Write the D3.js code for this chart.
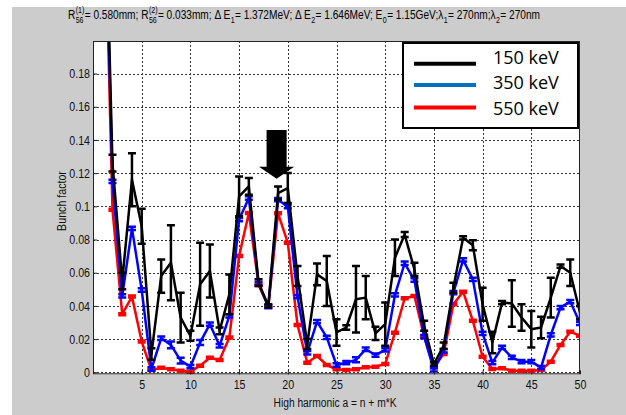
<!DOCTYPE html>
<html>
<head>
<meta charset="utf-8">
<script src="https://cdn.jsdelivr.net/npm/d3@7"></script>
<style>
  html, body { margin: 0; padding: 0; background: #fff; }
  svg { display: block; }
  .tick text { font-family: "Liberation Sans", Arial, sans-serif; font-size: 13px; fill: #111; }
</style>
</head>
<body>
<div id="chart"></div>
<script>
// harmonic number a = n + m*K
const harmonics = [1, 2, 3, 4, 5, 6, 7, 8, 9, 10, 11, 12, 13, 14, 15, 16, 17, 18, 19, 20,
  21, 22, 23, 24, 25, 26, 27, 28, 29, 30, 31, 32, 33, 34, 35, 36, 37, 38, 39, 40,
  41, 42, 43, 44, 45, 46, 47, 48, 49, 50]

// bunch factor, 150 keV
const bf150 = [0.35, 0.126, 0.055, 0.116, 0.088, 0.011, 0.058, 0.066, 0.033, 0.022,
  0.053, 0.061, 0.025, 0.047, 0.106, 0.112, 0.054, 0.040, 0.108, 0.111,
  0.058, 0.017, 0.059, 0.055, 0.024, 0.027, 0.044, 0.045, 0.0235, 0.029,
  0.069, 0.083, 0.062, 0.028, 0.005, 0.016, 0.051, 0.081, 0.0765, 0.041,
  0.018, 0.042, 0.0415, 0.033, 0.026, 0.027, 0.045, 0.064, 0.060, 0.036]
const err150 = [0.005, 0.005, 0.005, 0.016, 0.0105, 0.0035, 0.010, 0.0226, 0.015, 0.003,
  0.025, 0.016, 0.002, 0.012, 0.012, 0.005, 0.002, 0.001, 0.004, 0.009,
  0.006, 0.003, 0.0065, 0.015, 0.008, 0.0013, 0.020, 0.013, 0.004, 0.013,
  0.011, 0.0015, 0.004, 0.003, 0.001, 0.002, 0.003, 0.001, 0.003, 0.010,
  0.0065, 0.001, 0.014, 0.008, 0.011, 0.0065, 0.012, 0.001, 0.008, 0.004]

// bunch factor, 350 keV
const bf350 = [0.34, 0.115, 0.046, 0.0867, 0.0496, 0.002, 0.0205, 0.0165, 0.007, 0.0034,
  0.018, 0.029, 0.016, 0.034, 0.092, 0.105, 0.0536, 0.0396, 0.104, 0.0998,
  0.0456, 0.0118, 0.0305, 0.021, 0.0044, 0.0058, 0.0075, 0.0139, 0.0104, 0.0135,
  0.0466, 0.0657, 0.0556, 0.0215, 0.0015, 0.013, 0.048, 0.0677, 0.056, 0.0235,
  0.0058, 0.015, 0.009, 0.0064, 0.0064, 0.0028, 0.0225, 0.039, 0.0426, 0.0295]
const err350 = [0.001, 0.001, 0.001, 0.001, 0.001, 0.001, 0.001, 0.002, 0.0017, 0.001,
  0.0015, 0.001, 0.001, 0.001, 0.001, 0.001, 0.001, 0.001, 0.001, 0.001,
  0.001, 0.001, 0.001, 0.001, 0.001, 0.001, 0.0015, 0.001, 0.001, 0.001,
  0.001, 0.001, 0.001, 0.001, 0.001, 0.001, 0.001, 0.001, 0.001, 0.001,
  0.001, 0.001, 0.001, 0.001, 0.001, 0.001, 0.001, 0.001, 0.001, 0.001]

// bunch factor, 550 keV
const bf550 = [0.33, 0.098, 0.035, 0.0456, 0.0185, 0.0014, 0.0028, 0.0018, 0.001, 0.0004,
  0.004, 0.0088, 0.0074, 0.021, 0.070, 0.096, 0.0526, 0.0396, 0.0958, 0.078,
  0.0285, 0.0058, 0.0098, 0.0044, 0.0018, 0.0014, 0.0018, 0.003, 0.0034, 0.005,
  0.0239, 0.0446, 0.046, 0.0215, 0.003, 0.011, 0.041, 0.0486, 0.031, 0.0094,
  0.002, 0.0024, 0.001, 0.001, 0.001, 0.0014, 0.0064, 0.0165, 0.0245, 0.022]
const err550 = [0.0006, 0.0006, 0.0006, 0.0006, 0.0006, 0.0006, 0.0006, 0.0006, 0.0006, 0.0006,
  0.0006, 0.0006, 0.0006, 0.0006, 0.0006, 0.0006, 0.0006, 0.0006, 0.0006, 0.0006,
  0.0006, 0.0006, 0.0006, 0.0006, 0.0006, 0.0006, 0.0006, 0.0006, 0.0006, 0.0006,
  0.0006, 0.0006, 0.0006, 0.0006, 0.0006, 0.0006, 0.0006, 0.0006, 0.0006, 0.0006,
  0.0006, 0.0006, 0.0006, 0.0006, 0.0006, 0.0006, 0.0006, 0.0006, 0.0006, 0.0006]

const legendLabels = ['150 keV', '350 keV', '550 keV']
const xTicks = [5, 10, 15, 20, 25, 30, 35, 40, 45, 50]
const yTicks = [0, 0.02, 0.04, 0.06, 0.08, 0.1, 0.12, 0.14, 0.16, 0.18]

// arrow marking the 19th harmonic (center, top, shaft end, tip)
const arrowAt = [18.85, 0.146, 0.1238, 0.1178]

const titleParts = [
  {t: 'R'}, {sup: '(1)', sub: '56'}, {t: ' = 0.580mm; R'}, {sup: '(2)', sub: '56'},
  {t: ' = 0.033mm; \u0394 E'}, {sub: '1'}, {t: ' = 1.372MeV; \u0394 E'}, {sub: '2'},
  {t: ' = 1.646MeV; E'}, {sub: '0'}, {t: ' = 1.15GeV;\u03bb'}, {sub: '1'},
  {t: ' = 270nm;\u03bb'}, {sub: '2'}, {t: ' = 270nm'},
]

const W = 626, H = 415
const plot = {left: 93, right: 580, top: 41, bottom: 374.3}
const helv = '"Liberation Sans", Arial, sans-serif'
const narrow = 0.82

const svg = d3.select('#chart').append('svg').attr('width', W).attr('height', H)

// figure background
svg.append('rect').attr('x', 12).attr('y', 7).attr('width', W - 12).attr('height', H - 7).attr('fill', '#cccccc')

const x = d3.scaleLinear().domain([0, 50]).range([plot.left, plot.right])
const y = d3.scaleLinear().domain([-0.0012, 0.1996]).range([plot.bottom, plot.top])

svg.append('rect')
  .attr('x', plot.left).attr('y', plot.top)
  .attr('width', plot.right - plot.left).attr('height', plot.bottom - plot.top)
  .attr('fill', '#fff')

// grid
const grid = svg.append('g').attr('stroke', '#333').attr('stroke-width', 1).attr('stroke-dasharray', '2,2')
grid.selectAll('.gx').data(xTicks.filter((d) => d < 50)).join('line')
  .attr('x1', (d) => Math.round(x(d)) + 0.5).attr('x2', (d) => Math.round(x(d)) + 0.5)
  .attr('y1', plot.top).attr('y2', plot.bottom)
grid.selectAll('.gy').data(yTicks).join('line')
  .attr('x1', plot.left).attr('x2', plot.right)
  .attr('y1', (d) => Math.round(y(d)) + 0.5).attr('y2', (d) => Math.round(y(d)) + 0.5)

svg.append('clipPath').attr('id', 'clip').append('rect')
  .attr('x', plot.left).attr('y', plot.top)
  .attr('width', plot.right - plot.left).attr('height', plot.bottom - plot.top)

const series = [
  {vals: bf550, errs: err550, color: '#ff0000'},
  {vals: bf350, errs: err350, color: '#0000ff'},
  {vals: bf150, errs: err150, color: '#000000'},
]

const line = d3.line().x((d) => x(d.x)).y((d) => y(d.y))
const capW = 4

const marks = svg.append('g').attr('clip-path', 'url(#clip)')
series.forEach((s) => {
  const pts = harmonics.map((h, i) => ({x: h, y: s.vals[i], e: s.errs[i]}))
  const g = marks.append('g').attr('stroke', s.color).attr('fill', 'none')
  g.append('path').datum(pts).attr('d', line).attr('stroke-width', 2.5).attr('stroke-linejoin', 'round')
  const eb = g.selectAll('g.eb').data(pts).join('g').attr('stroke-width', 2.5)
  eb.append('line')
    .attr('x1', (d) => x(d.x)).attr('x2', (d) => x(d.x))
    .attr('y1', (d) => y(d.y - d.e)).attr('y2', (d) => y(d.y + d.e))
  eb.append('line')
    .attr('x1', (d) => x(d.x) - capW).attr('x2', (d) => x(d.x) + capW)
    .attr('y1', (d) => y(d.y - d.e)).attr('y2', (d) => y(d.y - d.e))
  eb.append('line')
    .attr('x1', (d) => x(d.x) - capW).attr('x2', (d) => x(d.x) + capW)
    .attr('y1', (d) => y(d.y + d.e)).attr('y2', (d) => y(d.y + d.e))
})

// axes
const xAxis = svg.append('g').attr('transform', `translate(0,${plot.bottom})`)
  .call(d3.axisBottom(x).tickValues(xTicks).tickSize(-4).tickPadding(5).tickFormat(d3.format('d')))
const yAxis = svg.append('g').attr('transform', `translate(${plot.left},0)`)
  .call(d3.axisLeft(y).tickValues(yTicks).tickSize(-4).tickPadding(3).tickFormat((d) => String(+d.toFixed(2))))
;[xAxis, yAxis].forEach((a) => {
  a.select('.domain').remove()
  a.selectAll('.tick line').attr('stroke', '#222')
  // MATLAB's Helvetica renders narrower than Liberation Sans
  a.selectAll('.tick text').each(function () {
    const t = d3.select(this)
    t.attr('x', (+t.attr('x') || 0) / narrow).attr('transform', `scale(${narrow},1)`)
  })
})

// box
svg.append('rect')
  .attr('x', plot.left + 0.5).attr('y', plot.top + 0.5)
  .attr('width', plot.right - plot.left - 1).attr('height', plot.bottom - plot.top - 1)
  .attr('fill', 'none').attr('stroke', '#222').attr('stroke-width', 1)

// axis labels
svg.append('text')
  .attr('transform', `translate(335,406.5) scale(${narrow},1)`).attr('text-anchor', 'middle')
  .attr('font-family', helv).attr('font-size', 12.5).attr('fill', '#111')
  .text('High harmonic a = n + m*K')
svg.append('text')
  .attr('transform', `translate(66,201) rotate(-90) scale(${narrow},1)`).attr('text-anchor', 'middle')
  .attr('font-family', helv).attr('font-size', 13).attr('fill', '#111')
  .text('Bunch factor')

// arrow
const [ax, aTop, aShaft, aTip] = arrowAt
svg.append('path')
  .attr('fill', '#000')
  .attr('d', d3.line()([
    [x(ax - 1.03), y(aTop)], [x(ax + 1.03), y(aTop)], [x(ax + 1.03), y(aShaft)],
    [x(ax + 1.8), y(aShaft)], [x(ax), y(aTip) + 2], [x(ax - 1.8), y(aShaft)],
    [x(ax - 1.03), y(aShaft)],
  ]) + 'Z')

// legend
const leg = svg.append('g')
leg.append('rect').attr('x', 403).attr('y', 43).attr('width', 175).attr('height', 85)
  .attr('fill', '#fff').attr('stroke', '#000').attr('stroke-width', 2)
const legColors = ['#000000', '#0070c0', '#ff0000']
const legLineY = [63.7, 85, 107.5]
const legTextY = [63.5, 89, 114.5]
legendLabels.forEach((lab, i) => {
  leg.append('line').attr('x1', 414).attr('x2', 476).attr('y1', legLineY[i]).attr('y2', legLineY[i])
    .attr('stroke', legColors[i]).attr('stroke-width', 4)
  leg.append('text').attr('x', 493).attr('y', legTextY[i])
    .attr('font-family', '"Open Sans", sans-serif').attr('font-size', 18).attr('fill', '#000')
    .text(lab)
})

// title with stacked super/subscripts
const title = svg.append('g')
let cx = 0
const base = 19
titleParts.forEach((p) => {
  if (p.t) {
    const t = title.append('text').attr('x', cx).attr('y', base)
      .attr('font-family', helv).attr('font-size', 13).attr('fill', '#000').text(p.t)
    cx += t.node().getComputedTextLength()
  } else {
    let w = 0
    if (p.sup) {
      const t = title.append('text').attr('x', cx + 0.5).attr('y', base - 6)
        .attr('font-family', helv).attr('font-size', 9).attr('fill', '#000').text(p.sup)
      w = Math.max(w, t.node().getComputedTextLength())
    }
    if (p.sub) {
      const t = title.append('text').attr('x', cx + 0.5).attr('y', base + 4)
        .attr('font-family', helv).attr('font-size', 9).attr('fill', '#000').text(p.sub)
      w = Math.max(w, t.node().getComputedTextLength())
    }
    cx += w + 1
  }
})
const titleX = 68, titleW = 472
title.attr('transform', `translate(${titleX},0) scale(${titleW / cx},1)`)
</script>
</body>
</html>
